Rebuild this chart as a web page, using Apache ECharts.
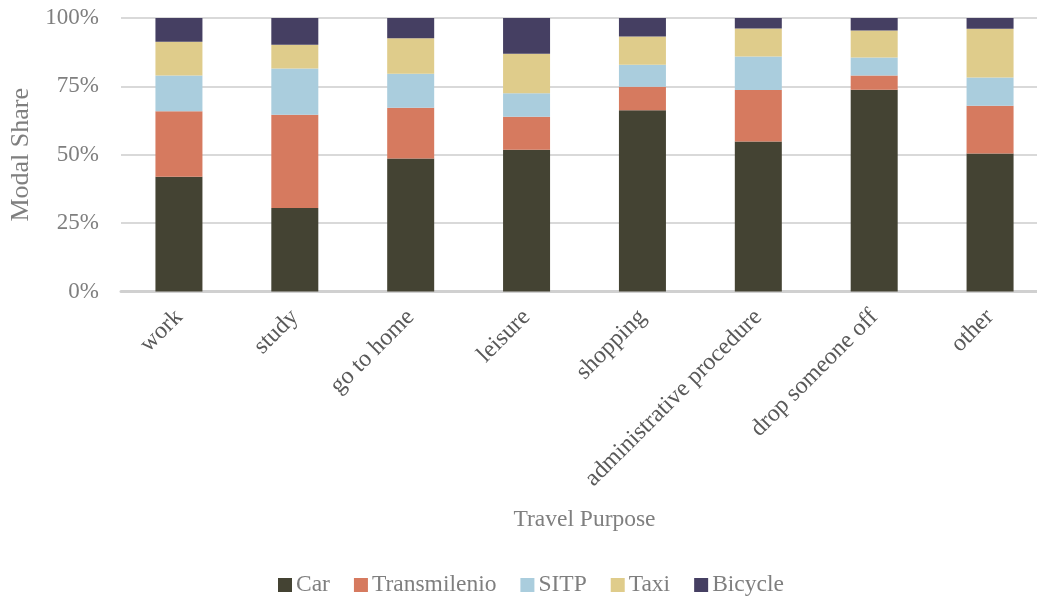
<!DOCTYPE html>
<html>
<head>
<meta charset="utf-8">
<script src="https://cdn.jsdelivr.net/npm/echarts@6/dist/echarts.min.js"></script>
<style>
  html, body { margin: 0; padding: 0; background: #fff; }
  #chart { width: 1037px; height: 596px; }
</style>
</head>
<body>
<div id="chart"></div>
<script>
const purposes = ["work", "study", "go to home", "leisure", "shopping", "administrative procedure", "drop someone off", "other"];
const car = [42.0, 30.5, 48.6, 51.8, 66.3, 54.8, 73.8, 50.5];
const transmilenio = [23.9, 34.1, 18.6, 12.1, 8.6, 18.9, 5.2, 17.4];
const sitp = [13.1, 16.9, 12.4, 8.6, 8.0, 12.2, 6.6, 10.3];
const taxi = [12.3, 8.7, 13.0, 14.4, 10.3, 10.3, 9.8, 17.9];
const bicycle = [8.7, 9.8, 7.4, 13.1, 6.8, 3.8, 4.6, 3.9];
const yTicks = [0, 25, 50, 75, 100];

const font = "'Liberation Serif', 'Times New Roman', serif";
const chart = echarts.init(document.getElementById("chart"), null, { renderer: "canvas" });

const bar = (name, data, color) => ({
  name, type: "bar", stack: "share", data, barWidth: 47,
  itemStyle: { color }
});

chart.setOption({
  animation: false,
  textStyle: { fontFamily: font },
  // plot area runs past the right edge in the reference, so keep ECharts from shrinking it
  grid: { left: 121, width: 927, top: 18, bottom: 304.5, outerBoundsMode: "none", containLabel: false },
  legend: {
    left: 278, top: 573, padding: 0,
    itemWidth: 14, itemHeight: 14, itemGap: 24,
    icon: "rect",
    textStyle: { fontFamily: font, fontSize: 23.5, color: "#7f7f7f", padding: [0, 0, 0, -1] },
    data: ["Car", "Transmilenio", "SITP", "Taxi", "Bicycle"]
  },
  xAxis: {
    type: "category",
    data: purposes,
    name: "Travel Purpose",
    nameLocation: "middle",
    nameGap: 216,
    nameTextStyle: { fontFamily: font, fontSize: 23.5, color: "#7f7f7f" },
    axisLine: { lineStyle: { color: "#d0d0d0", width: 3 } },
    axisTick: { show: false },
    axisLabel: { rotate: 45, margin: 22, fontFamily: font, fontSize: 24, color: "#595959", interval: 0 }
  },
  yAxis: {
    type: "value",
    min: yTicks[0], max: yTicks[yTicks.length - 1], interval: 25,
    name: "Modal Share",
    nameLocation: "middle",
    nameGap: 85,
    nameTextStyle: { fontFamily: font, fontSize: 26, color: "#7f7f7f" },
    axisLine: { show: false },
    axisTick: { show: false },
    splitLine: { lineStyle: { color: "#d9d9d9", width: 2 } },
    axisLabel: { formatter: "{value}%", margin: 22, fontFamily: font, fontSize: 23, color: "#7f7f7f" }
  },
  series: [
    bar("Car", car, "#444333"),
    bar("Transmilenio", transmilenio, "#d67a5f"),
    bar("SITP", sitp, "#aacddd"),
    bar("Taxi", taxi, "#dfcc8b"),
    bar("Bicycle", bicycle, "#453f62")
  ]
});
</script>
</body>
</html>
